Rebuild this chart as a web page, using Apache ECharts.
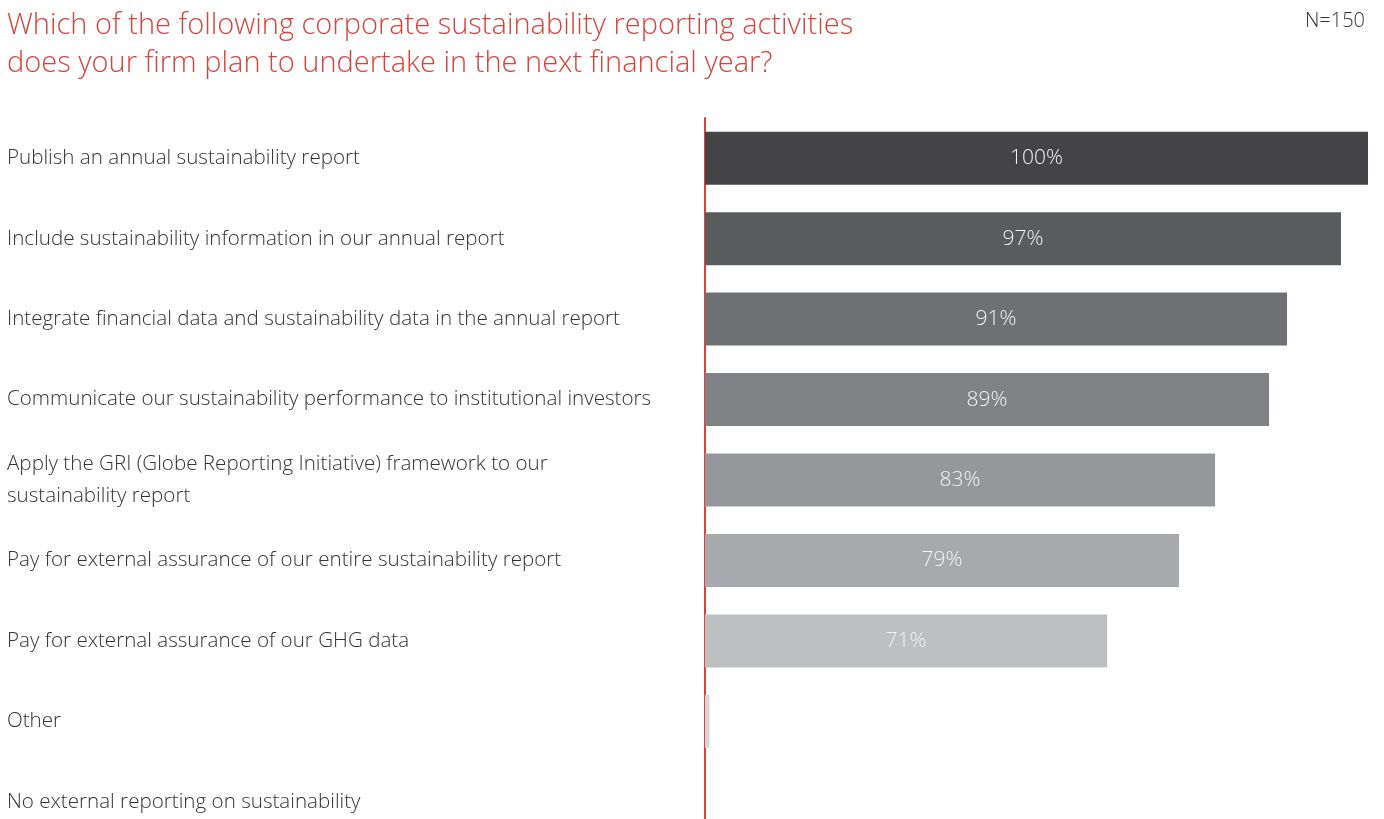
<!DOCTYPE html>
<html>
<head>
<meta charset="utf-8">
<script src="https://cdn.jsdelivr.net/npm/echarts@6/dist/echarts.min.js"></script>
<style>
  html, body { margin: 0; padding: 0; background: #fff; overflow: hidden; }
  /* taller than the window: the last band runs past the bottom edge, as in the original */
  #chart { width: 1384px; height: 850px; }
</style>
</head>
<body>
<div id="chart"></div>
<script>
  // survey answers, top to bottom
  var categories = [
    'Publish an annual sustainability report',
    'Include sustainability information in our annual report',
    'Integrate financial data and sustainability data in the annual report',
    'Communicate our sustainability performance to institutional investors',
    'Apply the GRI (Globe Reporting Initiative) framework to our\nsustainability report',
    'Pay for external assurance of our entire sustainability report',
    'Pay for external assurance of our GHG data',
    'Other',
    'No external reporting on sustainability'
  ];
  // percent of respondents (Other has no printed label)
  var values = [100, 97, 91, 89, 83, 79, 71, 26.8, 0];
  var showLabel = [true, true, true, true, true, true, true, false, false];
  var barColors = ['#444446', '#5a5b5d', '#6f7073', '#818285', '#96979a', '#a8a9ac', '#bebfc1', '#d4d5d7', '#e0e0e0'];

  var font = '"Open Sans", "Lato", sans-serif';

  var myChart = echarts.init(document.getElementById('chart'));
  var option = {
    animation: false,
    title: [
      {
        text: 'Which of the following corporate sustainability reporting activities\ndoes your firm plan to undertake in the next financial year?',
        left: 2,
        top: 2,
        textStyle: {
          color: '#d6453d',
          fontFamily: font,
          fontWeight: 300,
          fontSize: 29,
          lineHeight: 38
        }
      },
      {
        text: 'N=150',
        right: 14,
        top: 6,
        textStyle: {
          color: '#333',
          fontFamily: font,
          fontWeight: 300,
          fontSize: 20
        }
      }
    ],
    grid: {
      left: 705,
      right: 16,
      top: 118,
      bottom: 8,
      containLabel: false
    },
    xAxis: {
      type: 'value',
      min: 26.3,
      max: 100,
      show: false
    },
    yAxis: {
      type: 'category',
      inverse: true,
      data: categories,
      axisLine: {
        show: true,
        lineStyle: { color: '#d6453d', width: 2 }
      },
      axisTick: { show: false },
      axisLabel: {
        align: 'left',
        margin: 698,
        color: '#333',
        fontFamily: font,
        fontWeight: 300,
        fontSize: 20.6,
        lineHeight: 32
      }
    },
    series: [
      {
        type: 'bar',
        barWidth: 53,
        clip: true,
        data: values.map(function (v, i) {
          return {
            value: v,
            itemStyle: { color: barColors[i] },
            label: { show: showLabel[i] }
          };
        }),
        label: {
          position: 'inside',
          formatter: '{c}%',
          color: '#f2f2f2',
          fontFamily: font,
          fontWeight: 300,
          fontSize: 21
        }
      }
    ]
  };
  myChart.setOption(option);
</script>
</body>
</html>
